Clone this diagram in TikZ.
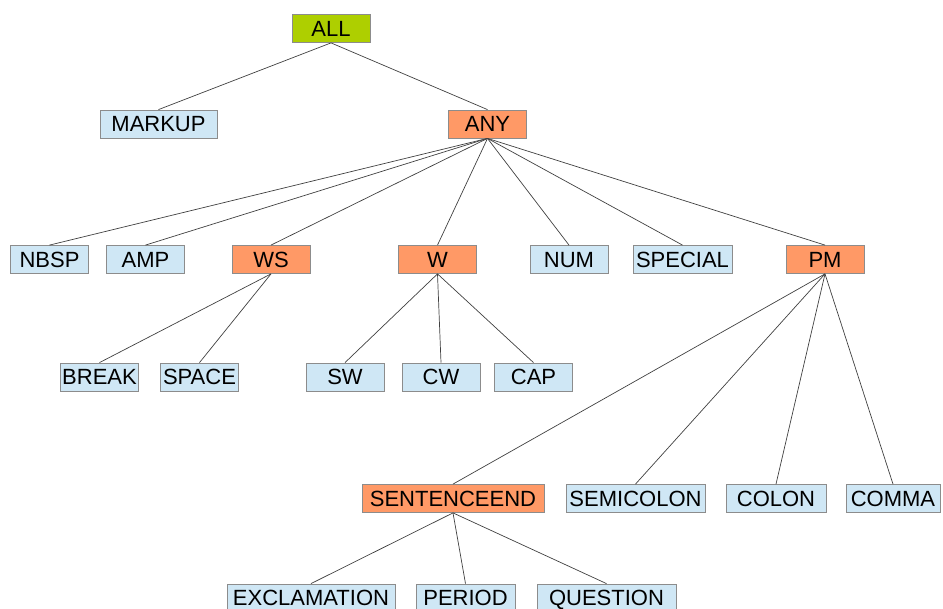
\documentclass[tikz,border=0pt]{standalone}
\usepackage{fontspec}
\setmainfont{Liberation Sans}
\definecolor{leafblue}{HTML}{CFE7F5}
\definecolor{tagorange}{HTML}{FF9966}
\definecolor{rootgreen}{HTML}{AECF00}
\definecolor{boxgray}{HTML}{8C8C8C}
\tikzset{
  tok/.style={draw=boxgray, line width=0.8pt, minimum width=78pt, minimum height=28pt,
    inner sep=0pt, text height=15.8pt, text depth=0pt, font=\fontsize{22}{26}\selectfont},
  leaf/.style={tok, fill=leafblue},
  group/.style={tok, fill=tagorange},
  root/.style={tok, fill=rootgreen},
  edge/.style={draw=black!75, line width=0.7pt}
}

\begin{document}
\begin{tikzpicture}[x=1pt, y=-1pt]
\useasboundingbox (0,0) rectangle (943,609);
% top
\node[root]  (all)    at (331,28.5)  {ALL};
\node[leaf, minimum width=117pt]  (markup) at (158.5,124) {MARKUP};
\node[group] (any)    at (487.5,124) {ANY};
% children of ANY
\node[leaf]  (nbsp)    at (49.5,259.5)  {NBSP};
\node[leaf]  (amp)     at (145.5,259.5) {AMP};
\node[group] (ws)      at (271,259.5)   {WS};
\node[group] (w)       at (437.5,259.5) {W};
\node[leaf]  (num)     at (569,259.5)   {NUM};
\node[leaf, minimum width=99pt]  (special) at (682.5,259.5) {SPECIAL};
\node[group] (pm)      at (825,259.5)   {PM};
% third row
\node[leaf]  (break) at (99.5,377)  {BREAK};
\node[leaf]  (space) at (199.5,377) {SPACE};
\node[leaf]  (sw)    at (345,377)   {SW};
\node[leaf]  (cw)    at (441,377)   {CW};
\node[leaf]  (cap)   at (533.5,377) {CAP};
% punctuation
\node[group, minimum width=182pt] (sentenceend) at (453,498.5)   {SENTENCEEND};
\node[leaf, minimum width=139pt]  (semicolon)   at (635.5,498.5) {SEMICOLON};
\node[leaf, minimum width=100pt]  (colon)       at (776,498.5)   {COLON};
\node[leaf, minimum width=94pt]   (comma)       at (893,498.5)   {COMMA};
% bottom
\node[leaf, minimum width=168pt] (exclamation) at (311,598)   {EXCLAMATION};
\node[leaf, minimum width=99pt]  (period)      at (465.5,598) {PERIOD};
\node[leaf, minimum width=139pt] (question)    at (606.5,598) {QUESTION};
% edges
\foreach \p/\c in {all/markup, all/any,
    any/nbsp, any/amp, any/ws, any/w, any/num, any/special, any/pm,
    ws/break, ws/space, w/sw, w/cw, w/cap,
    pm/sentenceend, pm/semicolon, pm/colon, pm/comma,
    sentenceend/exclamation, sentenceend/period, sentenceend/question}
  \draw[edge] (\p.south) -- (\c.north);
\end{tikzpicture}
\end{document}
